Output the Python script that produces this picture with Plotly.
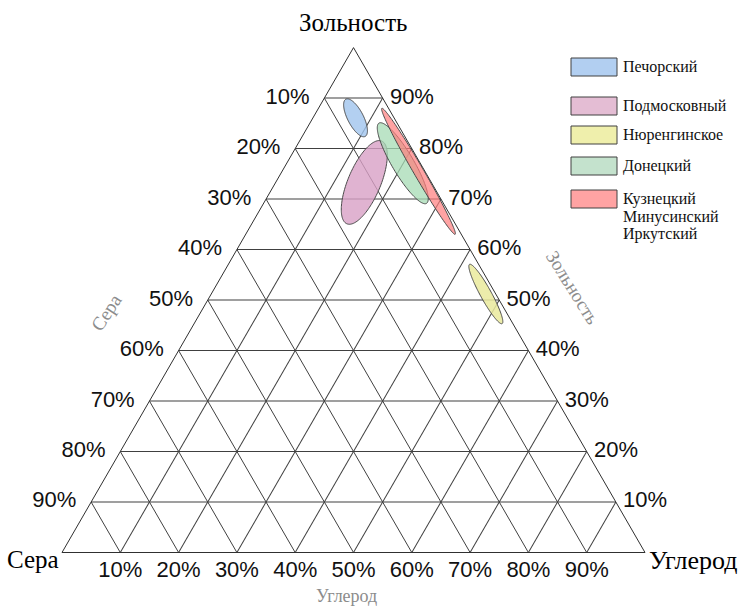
import numpy as np
import plotly.graph_objects as go

# Coal fields: centre composition of each field (percent) and the size/orientation of its scatter ellipse
fields = ["Печорский", "Подмосковный", "Нюренгинское", "Донецкий",
          "Кузнецкий<br>Минусинский<br>Иркутский"]
ash = [86.1, 73.3, 51.2, 77.1, 75.5]        # Зольность, %
sulfur = [6.6, 11.5, 1.7, 3.0, 1.1]         # Сера, %
carbon = [7.3, 15.2, 47.1, 19.9, 23.4]      # Углерод, %
spread_major = [3.6, 7.7, 5.8, 8.0, 12.5]   # semi-axis along the field, % of side
spread_minor = [1.35, 2.8, 0.95, 1.85, 0.85]  # semi-axis across the field, % of side
tilt_deg = [-62.6, 67.2, -61.2, -59.4, -59.8]

fill_colors = ["rgba(160,196,238,0.80)", "rgba(216,160,198,0.80)", "rgba(234,234,156,0.85)",
               "rgba(166,219,180,0.75)", "rgba(255,124,124,0.70)"]
legend_colors = ["#b2cff1", "#e4bdd4", "#efefac", "#c4e2cd", "#ffa3a3"]
draw_order = [1, 0, 2, 3, 4]

tick_values = [10, 20, 30, 40, 50, 60, 70, 80, 90]

S3 = np.sqrt(3) / 2


def ellipse_outline(a0, b0, c0, r1, r2, tilt, n=160):
    """Ellipse drawn in the equilateral plane, returned as (a, b, c) compositions."""
    x0 = c0 + a0 / 2
    y0 = a0 * S3
    t = np.linspace(0, 2 * np.pi, n)
    th = np.radians(tilt)
    ex, ey = r1 * np.cos(t), r2 * np.sin(t)
    x = x0 + ex * np.cos(th) - ey * np.sin(th)
    y = y0 + ex * np.sin(th) + ey * np.cos(th)
    a = y / S3
    c = x - a / 2
    return a, 100 - a - c, c


fig = go.Figure()

for i in draw_order:
    a, b, c = ellipse_outline(ash[i], sulfur[i], carbon[i],
                              spread_major[i], spread_minor[i], tilt_deg[i])
    fig.add_trace(go.Scatterternary(
        a=a, b=b, c=c, mode="lines", fill="toself",
        fillcolor=fill_colors[i], line=dict(color="#4a4a4a", width=1),
        name=fields[i].replace("<br>", " "), showlegend=False, hoverinfo="name"))

tick_font = dict(family="Liberation Sans, Arial, sans-serif", size=22, color="#111")
pct = [f"{v}%" for v in tick_values]

# Зольность along the right edge
fig.add_trace(go.Scatterternary(
    a=tick_values, b=[0] * 9, c=[100 - v for v in tick_values], text=pct,
    mode="markers+text", marker=dict(size=10, opacity=0), textposition="middle right",
    textfont=tick_font, cliponaxis=False, showlegend=False, hoverinfo="skip"))
# Сера along the left edge
fig.add_trace(go.Scatterternary(
    a=[100 - v for v in tick_values], b=tick_values, c=[0] * 9, text=pct,
    mode="markers+text", marker=dict(size=22, opacity=0), textposition="middle left",
    textfont=tick_font, cliponaxis=False, showlegend=False, hoverinfo="skip"))
# Углерод along the bottom edge
fig.add_trace(go.Scatterternary(
    a=[0] * 9, b=[100 - v for v in tick_values], c=tick_values, text=pct,
    mode="markers+text", marker=dict(size=11, opacity=0), textposition="bottom center",
    textfont=tick_font, cliponaxis=False, showlegend=False, hoverinfo="skip"))

W, H = 742, 607
x_left, x_right, y_base = 62, 645, 552.5
y_apex = y_base - (x_right - x_left) * S3

axis_style = dict(showticklabels=False, ticks="", dtick=10, showgrid=True,
                  gridcolor="#404040", gridwidth=1, linecolor="#303030", linewidth=1,
                  min=0, layer="below traces")

serif = "Liberation Serif, Times New Roman, serif"
corner_font = dict(family=serif, size=25, color="#000")
side_font = dict(family=serif, size=19, color="#8c8c8c")
annotations = [
    dict(text="Зольность", x=(x_left + x_right) / 2 / W, y=1 - 22 / H, font=corner_font),
    dict(text="Сера", x=(x_left - 1) / W, y=1 - 559 / H, xanchor="right", font=corner_font),
    dict(text="Углерод", x=(x_right + 2) / W, y=1 - 560 / H, xanchor="left",
         font=dict(corner_font, size=26)),
    dict(text="Сера", x=106 / W, y=1 - 312 / H, textangle=-57, font=side_font),
    dict(text="Зольность", x=573 / W, y=1 - 287 / H, textangle=58, font=side_font),
    dict(text="Углерод", x=346 / W, y=0, yanchor="bottom", borderpad=0,
         font=dict(side_font, size=18)),
]

# Legend drawn as swatches with captions
shapes = []
legend_top_px = [58, 97, 126, 157, 190]
line_step_px = 17.5
for name, color, top in zip(fields, legend_colors, legend_top_px):
    shapes.append(dict(type="rect", xref="paper", yref="paper",
                       x0=571 / W, x1=617 / W, y0=1 - (top + 18) / H, y1=1 - top / H,
                       fillcolor=color, line=dict(color="#404040", width=1)))
    for k, line in enumerate(name.split("<br>")):
        annotations.append(dict(text=line, x=621 / W, y=1 - (top + 9 + k * line_step_px) / H,
                                xanchor="left", yanchor="middle",
                                font=dict(family=serif, size=16, color="#111")))

for ann in annotations:
    ann.setdefault("xref", "paper")
    ann.setdefault("yref", "paper")
    ann.setdefault("xanchor", "center")
    ann.setdefault("yanchor", "middle")
    ann.setdefault("showarrow", False)

fig.update_layout(
    width=W, height=H,
    margin=dict(l=0, r=0, t=0, b=0),
    paper_bgcolor="white",
    showlegend=False,
    ternary=dict(
        sum=100,
        bgcolor="white",
        domain=dict(x=[x_left / W, x_right / W], y=[1 - y_base / H, 1 - y_apex / H]),
        aaxis=dict(title=dict(text=""), **axis_style),
        baxis=dict(title=dict(text=""), **axis_style),
        caxis=dict(title=dict(text=""), **axis_style),
    ),
    annotations=annotations,
    shapes=shapes,
)

fig.write_html("out.html")
